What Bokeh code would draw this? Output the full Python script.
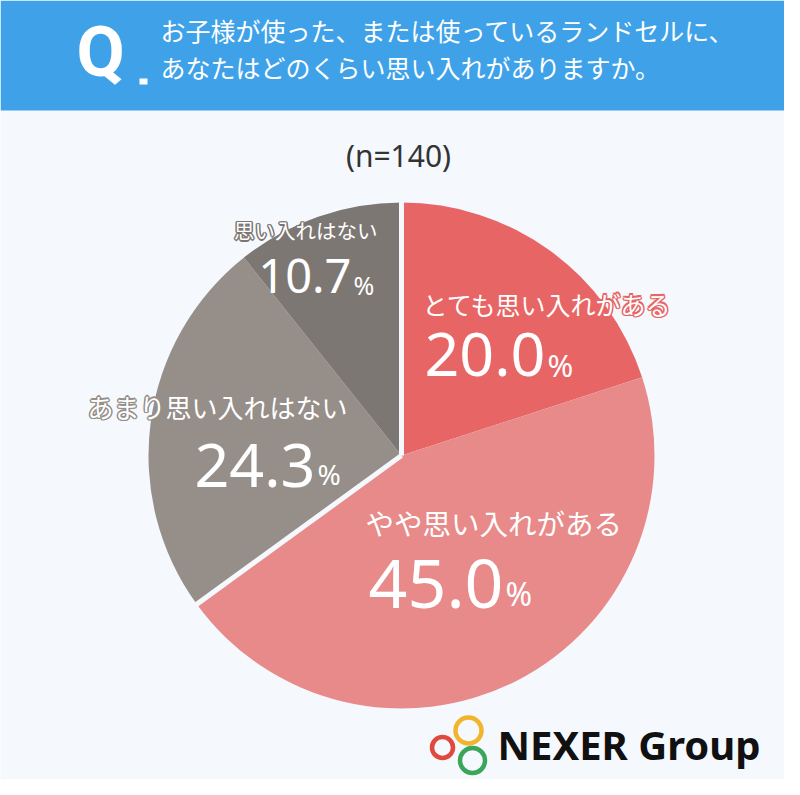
import math
from bokeh.plotting import figure
from bokeh.models import Range1d, ColumnDataSource
from bokeh.core.properties import value
from bokeh.embed import file_html
from bokeh.resources import INLINE

# ---- data ----
categories = ["とても思い入れがある", "やや思い入れがある", "あまり思い入れはない", "思い入れはない"]
percents = [20.0, 45.0, 24.3, 10.7]
colors = ["#E86565", "#E88A8A", "#958E89", "#7D7773"]
title_lines = ["お子様が使った、または使っているランドセルに、", "あなたはどのくらい思い入れがありますか。"]
sample_label = "(n=140)"

# ---- layout (reference pixel coordinates) ----
W, H = 784, 779
BG = "#F5F9FE"
HEADER = "#3FA2E8"
JP = "Noto Sans CJK JP"
NUM = "Noto Sans"
CX, CY, R = 401, 455, 253


def Y(v):
    return 795 - v


p = figure(width=W, height=H, output_backend="svg", toolbar_location=None,
           x_range=Range1d(0, W), y_range=Range1d(795 - H, 795),
           background_fill_color=BG, border_fill_color=BG, min_border=0)
p.axis.visible = False
p.grid.visible = False
p.outline_line_color = None

# header band
p.quad(left=[0], right=[800], top=[Y(0)], bottom=[Y(110)], fill_color=HEADER, line_color=None)
p.text(x=[76], y=[Y(51)], text=["Q"], text_font=value("Roboto"), text_font_style="bold",
       text_font_size="70px", text_color="white", text_baseline="middle")
p.quad(left=[139], right=[147], top=[Y(78)], bottom=[Y(84)], fill_color="white", line_color=None)
p.text(x=[160, 160], y=[Y(29), Y(66)], text=title_lines, text_font=value(JP),
       text_font_size="25px", text_color="white", text_baseline="middle")

# sample size
p.text(x=[398], y=[Y(155)], text=[sample_label], text_font=value(NUM), text_font_size="30px",
       text_color="#333333", text_align="center", text_baseline="middle")

# pie
total = sum(percents)
starts, ends = [], []
cum = 0.0
for v in percents:
    starts.append(math.pi / 2 - 2 * math.pi * cum / total)
    cum += v
    ends.append(math.pi / 2 - 2 * math.pi * cum / total)
src = ColumnDataSource(dict(start=starts, end=ends, color=colors, cat=categories, pct=percents))
p.wedge(x=CX, y=Y(CY), radius=R, start_angle="start", end_angle="end", direction="clock",
        fill_color="color", line_color=None, source=src)

# white separators between the positive and negative groups
sep_fracs = [0.0, (percents[0] + percents[1]) / total]
for f in sep_fracs:
    a = math.pi / 2 - 2 * math.pi * f
    p.segment(x0=[CX], y0=[Y(CY)], x1=[CX + (R + 2) * math.cos(a)], y1=[Y(CY) + (R + 2) * math.sin(a)],
              line_color=BG, line_width=5)

# labels: (label anchor x, label center y, label font, align, pct-sign left x,
#          number center y, pct center y, num font, pct font)
label_layout = [
    (422, 307, 25, "left", 547, 354, 364, 61, 31),
    (365, 527, 28.5, "left", 505, 583, 593, 68, 32),
    (347, 410, 26, "right", 317, 465, 473, 61, 28),
    (377, 233, 20.5, "right", 353, 275, 284, 47, 25),
]
offs = [(dx * 1.6, dy * 1.6) for dx, dy in [(1, 0), (-1, 0), (0, 1), (0, -1), (0.7, 0.7), (-0.7, 0.7), (0.7, -0.7), (-0.7, -0.7)]]
for cat, pct, col, lay in zip(categories, percents, colors, label_layout):
    lx, ly, lfs, align, px, ny, py, nfs, pfs = lay
    ly = ly - 0.16 * lfs
    for dx, dy in offs:
        p.text(x=[lx + dx], y=[Y(ly) + dy], text=[cat], text_font=value(JP), text_font_size=f"{lfs}px",
               text_color=col, text_align=align, text_baseline="middle")
    p.text(x=[lx], y=[Y(ly)], text=[cat], text_font=value(JP), text_font_size=f"{lfs}px",
           text_color="white", text_align=align, text_baseline="middle")
    p.text(x=[px - 2], y=[Y(ny)], text=[f"{pct:.1f}"], text_font=value(NUM), text_font_size=f"{nfs}px",
           text_color="white", text_align="right", text_baseline="middle")
    p.text(x=[px], y=[Y(py)], text=["%"], text_font=value(NUM), text_font_size=f"{pfs}px",
           text_color="white", text_align="left", text_baseline="middle")

# logo
p.circle(x=[442, 468, 472], y=[Y(747), Y(730), Y(760)], radius=[10.5, 13, 12.5],
         fill_color=None, line_color=["#E04A3C", "#F2B42A", "#3BA55B"], line_width=4.5)
p.text(x=[497], y=[Y(744)], text=["NEXER Group"], text_font=value(NUM), text_font_style="bold",
       text_font_size="40px", text_color="#111111", text_baseline="middle")

open("out.html", "w").write(file_html(p, INLINE))
